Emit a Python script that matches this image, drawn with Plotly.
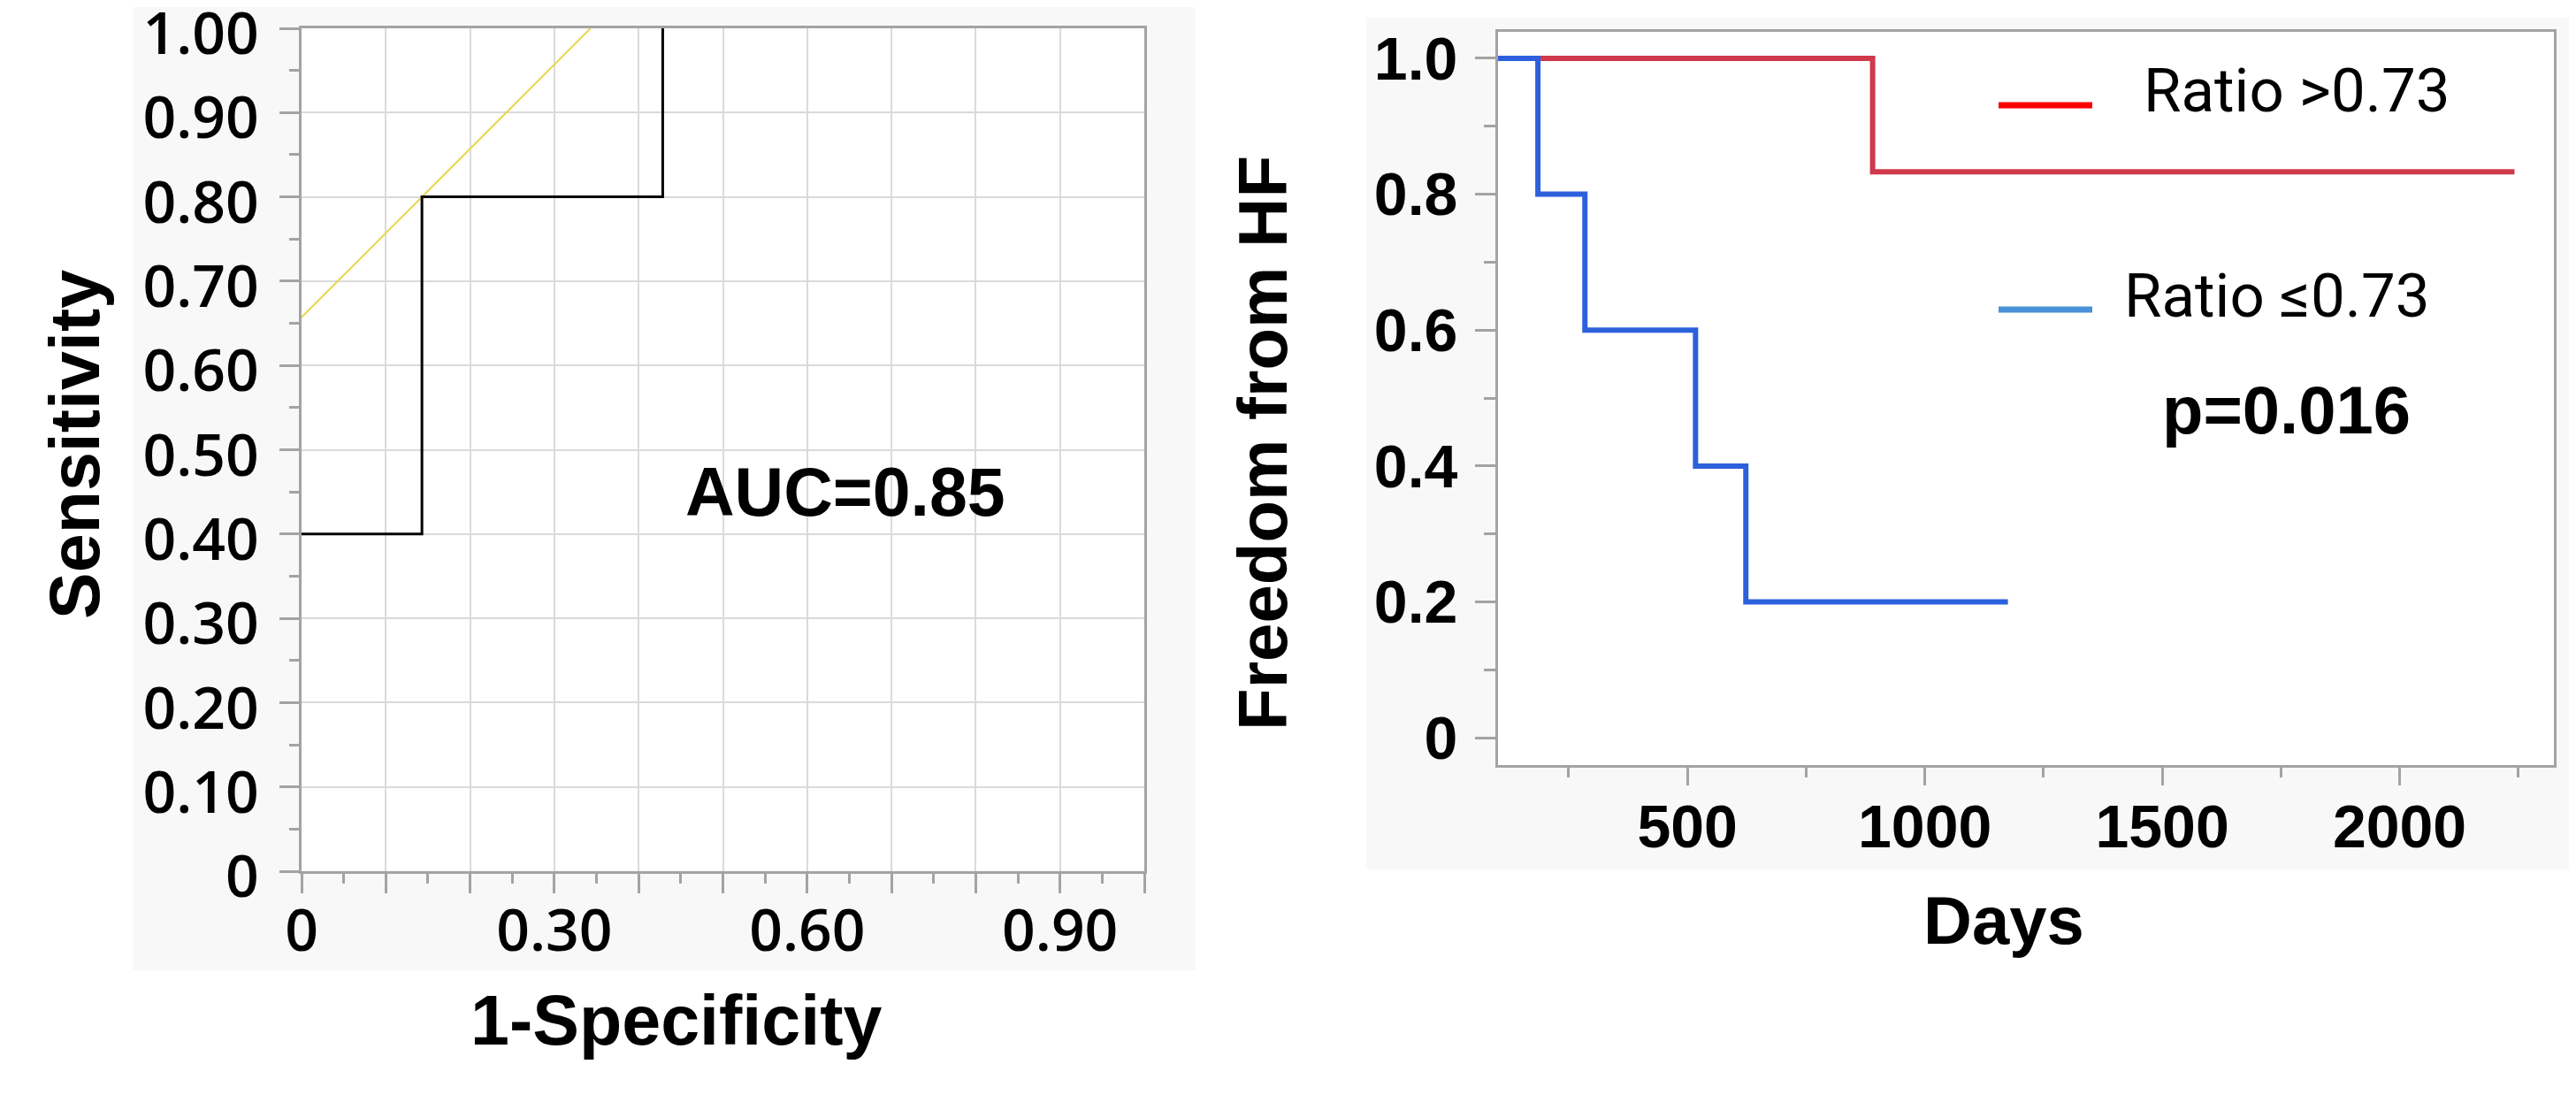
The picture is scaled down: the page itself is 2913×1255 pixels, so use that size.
import plotly.graph_objects as go

W, H = 2913, 1255

# ---------------- data ----------------
# ROC curve (1-specificity vs sensitivity)
roc_fpr = [0.0, 1 / 7, 3 / 7]
roc_tpr = [0.40, 0.80, 1.00]
# Youden tangent line through the optimal cut-off point
tangent_fpr = [0.0, 1 - (0.80 - 1 / 7)]
tangent_tpr = [0.80 - 1 / 7, 1.00]
auc_label = "AUC=0.85"

# Kaplan-Meier curves (days vs freedom from HF)
high_days = [0, 890, 2242]
high_surv = [1.0, 0.833, 0.833]
low_days = [0, 185, 284, 517, 623, 1175]
low_surv = [1.0, 0.8, 0.6, 0.4, 0.2, 0.2]
high_label = "Ratio >0.73"
low_label = "Ratio ≤0.73"
p_label = "p=0.016"

roc_x_ticks = [round(i * 0.1, 2) for i in range(11)]
roc_x_text = ["0" if v == 0 else ("%.2f" % v if i % 3 == 0 else "") for i, v in enumerate(roc_x_ticks)]
roc_y_ticks = [round(i * 0.1, 2) for i in range(11)]
roc_y_text = ["0" if v == 0 else "%.2f" % v for v in roc_y_ticks]
roc_minor = [round(0.05 + i * 0.1, 2) for i in range(10)]

km_x_ticks = [500, 1000, 1500, 2000]
km_x_minor = [250, 750, 1250, 1750, 2250]
km_y_ticks = [0, 0.2, 0.4, 0.6, 0.8, 1.0]
km_y_text = ["0", "0.2", "0.4", "0.6", "0.8", "1.0"]
km_y_minor = [0.1, 0.3, 0.5, 0.7, 0.9]

# ---------------- styles ----------------
AX = "#a3a3a3"
GRID = "#dadada"
PANEL = "#f8f8f8"
RED = "#d0384b"
BLUE = "#2d60dc"


def px(x):
    return x / W


def py(y):
    return 1 - y / H


fig = go.Figure()

fig.add_trace(go.Scatter(x=tangent_fpr, y=tangent_tpr, mode="lines",
                         line=dict(color="#e5d94c", width=2), xaxis="x", yaxis="y",
                         showlegend=False, hoverinfo="skip"))
fig.add_trace(go.Scatter(x=roc_fpr, y=roc_tpr, mode="lines", line_shape="hv",
                         line=dict(color="black", width=3), xaxis="x", yaxis="y",
                         showlegend=False))
fig.add_trace(go.Scatter(x=high_days, y=high_surv, mode="lines", line_shape="hv",
                         line=dict(color=RED, width=6), xaxis="x2", yaxis="y2",
                         name=high_label, showlegend=False))
fig.add_trace(go.Scatter(x=low_days, y=low_surv, mode="lines", line_shape="hv",
                         line=dict(color=BLUE, width=6), xaxis="x2", yaxis="y2",
                         name=low_label, showlegend=False))

tick_font_l = dict(family="Open Sans", size=66, color="black", weight=600)
tick_font_r = dict(family="Liberation Sans", size=68, color="black", weight="bold")

common = dict(automargin=False, ticklabeloverflow="allow", zeroline=False,
              showline=True, mirror=True, linecolor=AX, linewidth=3,
              ticks="outside", tickwidth=3, tickcolor=AX)

fig.update_layout(
    width=W, height=H, autosize=False,
    margin=dict(l=0, r=0, t=0, b=0, pad=0, autoexpand=False),
    paper_bgcolor="white", plot_bgcolor="white", showlegend=False,
    xaxis=dict(domain=[px(333), px(1286)], range=[0, 1], anchor="y",
               tickmode="array", tickvals=roc_x_ticks, ticktext=roc_x_text,
               showgrid=True, gridcolor=GRID, gridwidth=2,
               ticklen=22, tickfont=tick_font_l, ticklabelstandoff=-14,
               minor=dict(tickmode="array", tickvals=roc_minor, ticks="outside",
                          ticklen=11, tickwidth=3, tickcolor=AX, showgrid=False),
               **common),
    yaxis=dict(domain=[py(977), py(24)], range=[0, 1], anchor="x",
               tickmode="array", tickvals=roc_y_ticks, ticktext=roc_y_text,
               showgrid=True, gridcolor=GRID, gridwidth=2,
               ticklen=22, tickfont=tick_font_l, ticklabelstandoff=10, ticklabelshift=6,
               minor=dict(tickmode="array", tickvals=roc_minor, ticks="outside",
                          ticklen=11, tickwidth=3, tickcolor=AX, showgrid=False),
               **common),
    xaxis2=dict(domain=[px(1686), px(2880)], range=[101, 2325], anchor="y2",
                tickmode="array", tickvals=km_x_ticks, showgrid=False,
                ticklen=20, tickfont=tick_font_r, ticklabelstandoff=-12,
                minor=dict(tickmode="array", tickvals=km_x_minor, ticks="outside",
                           ticklen=11, tickwidth=3, tickcolor=AX, showgrid=False),
                **common),
    yaxis2=dict(domain=[py(857), py(28)], range=[-0.04, 1.039], anchor="x2",
                tickmode="array", tickvals=km_y_ticks, ticktext=km_y_text, showgrid=False,
                ticklen=23, tickfont=tick_font_r, ticklabelstandoff=6,
                minor=dict(tickmode="array", tickvals=km_y_minor, ticks="outside",
                           ticklen=13, tickwidth=3, tickcolor=AX, showgrid=False),
                **common),
)

shapes = [
    # light grey panels behind each chart
    dict(type="rect", xref="paper", yref="paper", x0=px(142), x1=px(1344), y0=py(1089), y1=py(0),
         fillcolor=PANEL, line=dict(width=0), layer="below"),
    dict(type="rect", xref="paper", yref="paper", x0=px(1537), x1=px(2913), y0=py(975), y1=py(12),
         fillcolor=PANEL, line=dict(width=0), layer="below"),
    # white plotting areas
    dict(type="rect", xref="paper", yref="paper", x0=px(333), x1=px(1286), y0=py(977), y1=py(24),
         fillcolor="white", line=dict(width=0), layer="below"),
    dict(type="rect", xref="paper", yref="paper", x0=px(1686), x1=px(2880), y0=py(857), y1=py(28),
         fillcolor="white", line=dict(width=0), layer="below"),
    # legend samples
    dict(type="line", xref="paper", yref="paper", x0=px(2252), x1=px(2358), y0=py(111), y1=py(111),
         line=dict(color="#ff0000", width=7)),
    dict(type="line", xref="paper", yref="paper", x0=px(2252), x1=px(2358), y0=py(342), y1=py(342),
         line=dict(color="#4a91d8", width=7)),
]
fig.update_layout(shapes=shapes)

bold = "Liberation Sans"


def ann(text, x, y, size, family=bold, angle=0, weight="bold"):
    return dict(text=text, x=px(x), y=py(y), xref="paper", yref="paper",
                xanchor="center", yanchor="middle", showarrow=False, textangle=angle,
                font=dict(family=family, size=size, color="black", weight=weight))


fig.update_layout(annotations=[
    ann("Sensitivity", 76, 495, 79, angle=-90),
    ann("1-Specificity", 756, 1145, 79),
    ann(auc_label, 948, 548, 77),
    ann("Freedom from HF", 1420, 493, 78, angle=-90),
    ann("Days", 2258, 1032, 76),
    ann(p_label, 2577, 455, 76),
    ann(high_label, 2589, 94, 69, family="Roboto", weight="normal"),
    ann(low_label, 2566, 326, 69, family="Roboto", weight="normal"),
])

fig.write_html("out.html")
